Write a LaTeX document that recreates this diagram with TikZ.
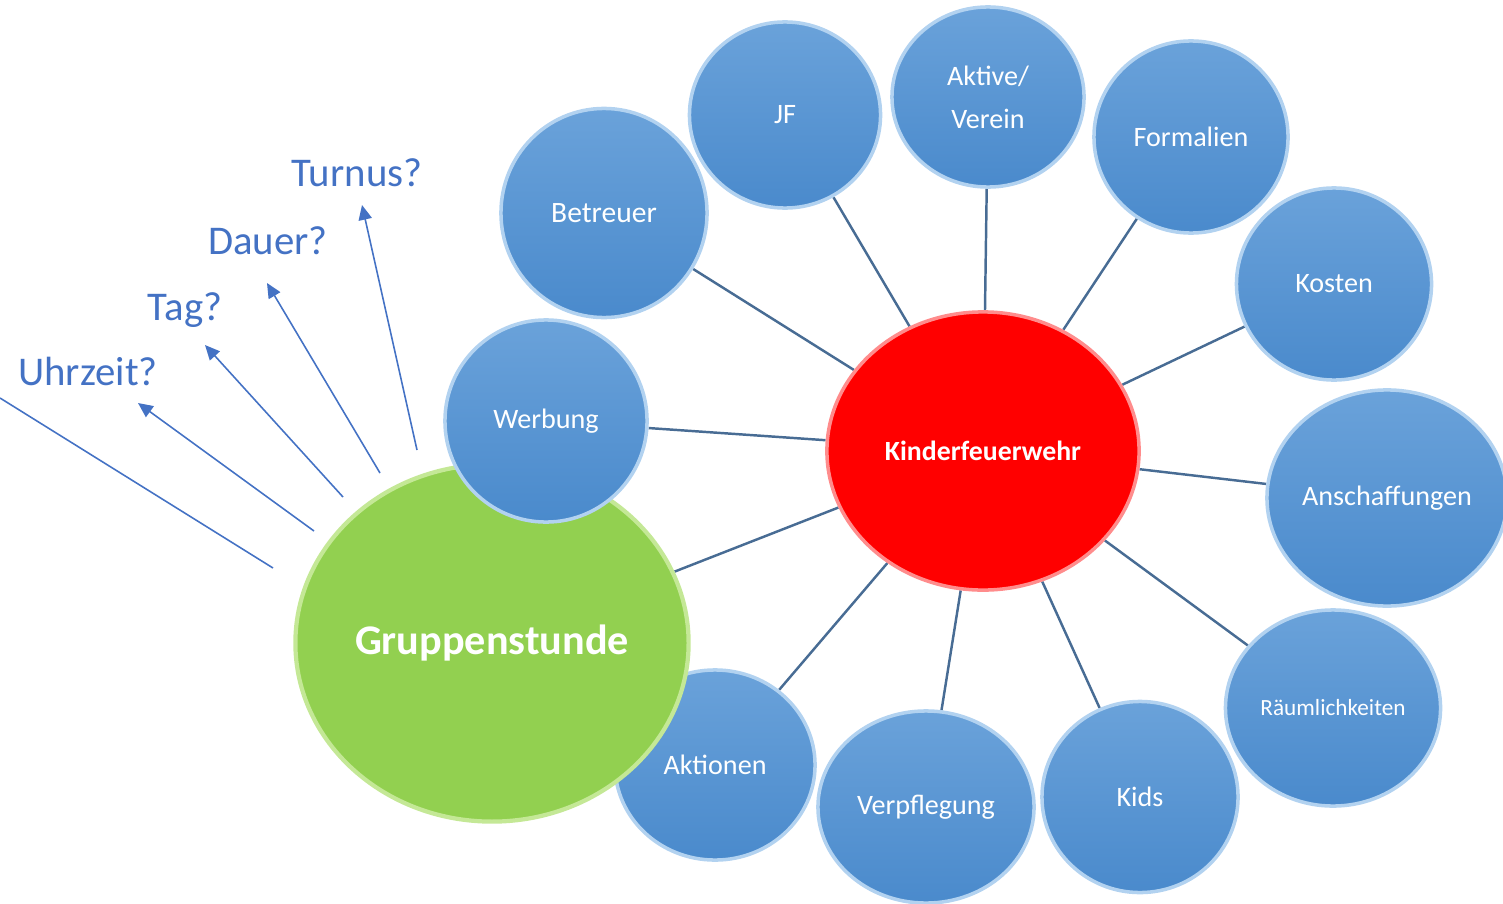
\documentclass[tikz,border=0pt]{standalone}
\usepackage{fontspec}
\setmainfont{Carlito}
\usepackage{xcolor}
\usepackage{tikz}
\usetikzlibrary{shapes.geometric,arrows.meta,backgrounds}
\definecolor{bubbletop}{RGB}{106,162,218}
\definecolor{bubblebot}{RGB}{74,138,204}
\definecolor{bubblerim}{RGB}{178,210,240}
\definecolor{linkcol}{RGB}{72,108,148}
\definecolor{askcol}{RGB}{68,114,196}
\definecolor{grpgreen}{RGB}{146,208,80}
\definecolor{grprim}{RGB}{196,232,150}
\definecolor{kfwrim}{RGB}{255,140,140}

\begin{document}
\begin{tikzpicture}[x=0.01cm,y=-0.01cm,
		bubble/.style={ellipse,top color=bubbletop,bottom color=bubblebot,draw=bubblerim,line width=1pt,text=white,inner sep=0pt,font=\fontsize{8}{12.2}\selectfont},
		link/.style={draw=linkcol,line width=0.7pt},
		ask/.style={draw=askcol,line width=0.45pt,-{Triangle[length=4.2pt,width=3.8pt]}},
		question/.style={text=askcol,font=\fontsize{11.6}{14}\selectfont}]
				\useasboundingbox (0,0) rectangle (1503,903);
				\node[bubble,minimum width=2.06cm,minimum height=2.09cm,font=\fontsize{8.4}{12.2}\selectfont] (betreuer) at (604,213) {Betreuer};
				\node[bubble,minimum width=1.91cm,minimum height=1.86cm] (jf) at (785,115) {JF};
				\node[bubble,minimum width=1.92cm,minimum height=1.80cm,align=center] (aktive) at (988,97) {Aktive/\\Verein};
				\node[bubble,minimum width=1.94cm,minimum height=1.92cm] (formalien) at (1191,137) {Formalien};
				\node[bubble,minimum width=1.95cm,minimum height=1.92cm] (kosten) at (1334,284) {Kosten};
				\node[bubble,minimum width=2.38cm,minimum height=2.16cm] (anschaffungen) at (1387,498) {Anschaffungen};
				\node[bubble,minimum width=2.15cm,minimum height=1.96cm,font=\fontsize{6.6}{8}\selectfont] (raeume) at (1333,708) {Räumlichkeiten};
				\node[bubble,minimum width=1.96cm,minimum height=1.91cm] (kids) at (1140,797) {Kids};
				\node[bubble,minimum width=2.16cm,minimum height=1.92cm] (verpflegung) at (926,807) {Verpflegung};
				\node[bubble,minimum width=2.00cm,minimum height=1.90cm] (aktionen) at (715,765) {Aktionen};
				\node[ellipse,fill=grpgreen,draw=grprim,line width=1.2pt,text=white,inner sep=0pt,minimum width=3.93cm,minimum height=3.57cm,font=\fontsize{12}{14}\selectfont\bfseries] (grp) at (492,643) {Gruppenstunde};
				\node[bubble,minimum width=2.02cm,minimum height=2.02cm] (werbung) at (546,421) {Werbung};
				\node[ellipse,fill=red,draw=kfwrim,line width=1pt,text=white,inner sep=0pt,minimum width=3.12cm,minimum height=2.78cm,font=\fontsize{7.9}{10}\selectfont\bfseries] (kfw) at (983,451) {Kinderfeuerwehr};
				\begin{pgfonlayer}{background}
					\draw[link] (kfw) -- (betreuer);
					\draw[link] (kfw) -- (jf);
					\draw[link] (kfw) -- (aktive);
					\draw[link] (kfw) -- (formalien);
					\draw[link] (kfw) -- (kosten);
					\draw[link] (kfw) -- (anschaffungen);
					\draw[link] (kfw) -- (raeume);
					\draw[link] (kfw) -- (kids);
					\draw[link] (kfw) -- (verpflegung);
					\draw[link] (kfw) -- (aktionen);
					\draw[link] (kfw) -- (werbung);
					\draw[link] (kfw) -- (grp);
				\end{pgfonlayer}
				\node[question] (uhrzeit) at (88,371) {Uhrzeit?};
				\node[question] (tag) at (185,310) {Tag?};
				\node[question] (dauer) at (268,241) {Dauer?};
				\node[question] (turnus) at (357,173) {Turnus?};
				\coordinate (s0) at (273,568);
				\coordinate (e0) at (0,398);
				\coordinate (s1) at (314,531);
				\coordinate (e1) at (138,403);
				\coordinate (s2) at (343,497);
				\coordinate (e2) at (205,345);
				\coordinate (s3) at (380,473);
				\coordinate (e3) at (267,283);
				\coordinate (s4) at (417,450);
				\coordinate (e4) at (362,205);
				\draw[draw=askcol,line width=0.45pt] (s0) -- (e0);
				\draw[ask] (s1) -- (e1);
				\draw[ask] (s2) -- (e2);
				\draw[ask] (s3) -- (e3);
				\draw[ask] (s4) -- (e4);
\end{tikzpicture}
\end{document}
